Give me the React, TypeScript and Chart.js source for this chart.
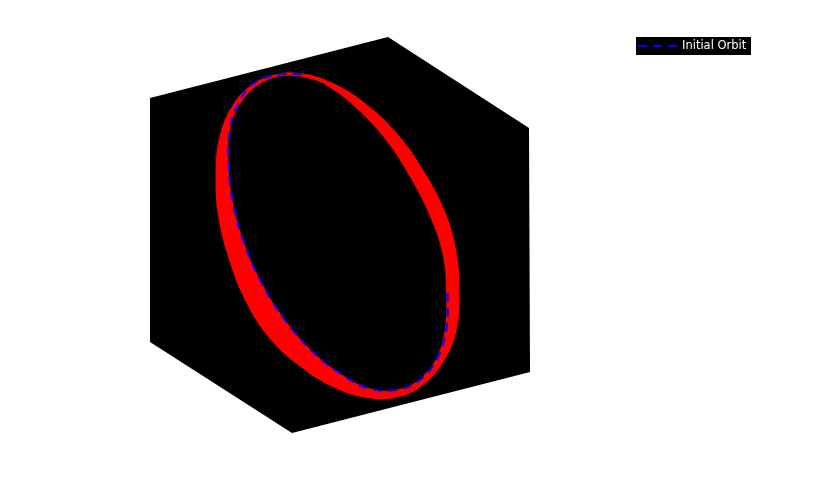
import React, { useEffect, useRef } from 'react';
import { Chart, registerables } from 'chart.js';

Chart.register(...registerables);

// Figure extents (figure units, y grows downward)
const viewX = [0, 816];
const viewY = [0, 489];

// Axes box (3-D cube silhouette, black axes background)
const cubeX = [150, 388, 529, 530, 292, 150, 150];
const cubeY = [98, 37, 128, 372, 433, 342, 98];

// Outer envelope of the perturbed (red) orbits, projected
const outerX = [459.5, 456.5, 443, 422, 396.5, 367.3, 335, 302, 270, 246, 229.5, 218.5, 215.5, 219, 231, 250, 275, 304.5, 336, 367.5, 398, 423.5, 445, 456.5];
const outerY = [293, 331, 362.5, 386, 397.5, 398, 388, 368, 339, 302, 261, 218, 176, 139, 108, 86, 74.5, 74, 84.5, 105, 134.5, 170.5, 211.5, 252];

// Inner envelope of the red orbit band
const innerX = [446, 445, 436.2, 417.8, 394.8, 368.8, 339.5, 311, 284, 261, 243.5, 232.5, 228.5, 230.5, 242, 261, 284, 311, 333.4, 361.2, 388.1, 410.7, 430, 442.7];
const innerY = [292, 328, 358.2, 380.4, 389.7, 388.1, 373, 350, 318.5, 281.5, 241, 200, 161, 128, 101.5, 83.5, 76, 79, 89.9, 112.8, 143, 178.3, 216.5, 254.5];

// Initial orbit (blue dashed)
const initialX = [447.5, 446.5, 437, 418.5, 395, 368, 339.5, 311, 284, 261, 243.5, 232.5, 228.5, 230, 237.5, 253, 277, 307, 338, 368, 392, 413, 432, 445];
const initialY = [293, 329, 359, 381, 390, 388, 373, 350, 318.5, 281.5, 241, 200, 161, 128, 105, 84, 75, 76, 90, 116, 148, 186, 226, 266];
// index range (in the wrapped series) of the part of the initial orbit seen in front of the red band
const initialVisible = [1, 17];

const seriesLabels = ['Initial Orbit', 'Inner envelope', 'Perturbed orbits', 'Axes box'];

const LEGEND = { left: 636, top: 37, right: 751, bottom: 55, lineStart: 638, lineEnd: 678, textX: 682 };
const DASH = [9, 6];

function toPoints(xs: number[], ys: number[]) {
  return xs.map((x, i) => ({ x, y: ys[i] }));
}

// wrap the closed orbit so the spline has neighbours at the seam
function closedLoop(xs: number[], ys: number[]) {
  const pts = toPoints(xs, ys);
  const n = pts.length;
  return [pts[n - 1], ...pts, pts[0], pts[1]];
}

const legendPlugin = {
  id: 'orbitLegend',
  afterDraw(chart: any) {
    const ds = chart.data.datasets[0];
    const { ctx } = chart;
    const sx = chart.scales.x;
    const sy = chart.scales.y;
    const l = sx.getPixelForValue(LEGEND.left);
    const r = sx.getPixelForValue(LEGEND.right);
    const t = sy.getPixelForValue(LEGEND.top);
    const b = sy.getPixelForValue(LEGEND.bottom);
    const mid = (t + b) / 2;
    ctx.save();
    ctx.fillStyle = '#000000';
    ctx.fillRect(l, t, r - l, b - t);
    ctx.strokeStyle = ds.borderColor;
    ctx.lineWidth = 2;
    ctx.setLineDash(DASH);
    ctx.beginPath();
    ctx.moveTo(sx.getPixelForValue(LEGEND.lineStart), mid);
    ctx.lineTo(sx.getPixelForValue(LEGEND.lineEnd), mid);
    ctx.stroke();
    ctx.setLineDash([]);
    ctx.fillStyle = '#ffffff';
    ctx.font = "11.5px 'DejaVu Sans', sans-serif";
    ctx.textBaseline = 'middle';
    ctx.textAlign = 'left';
    ctx.fillText(ds.label, sx.getPixelForValue(LEGEND.textX), mid + 0.5);
    ctx.restore();
  },
};

export default function App() {
  const ref = useRef<HTMLCanvasElement>(null);
  useEffect(() => {
    if (!ref.current) return;
    const initialPts = closedLoop(initialX, initialY);
    const chart = new Chart(ref.current, {
      type: 'scatter',
      data: {
        datasets: [
          {
            label: seriesLabels[0],
            data: initialPts,
            showLine: true,
            borderColor: '#0000ff',
            borderWidth: 2,
            borderDash: DASH,
            pointRadius: 0,
            tension: 0.4,
            fill: false,
            segment: {
              borderColor: (c: any) =>
                c.p0DataIndex < initialVisible[0] || c.p0DataIndex > initialVisible[1]
                  ? 'rgba(0,0,0,0)'
                  : undefined,
            },
          },
          {
            label: seriesLabels[1],
            data: closedLoop(innerX, innerY),
            showLine: true,
            borderWidth: 0,
            borderColor: 'rgba(0,0,0,0)',
            backgroundColor: '#000000',
            fill: 'shape',
            pointRadius: 0,
            tension: 0.4,
          },
          {
            label: seriesLabels[2],
            data: closedLoop(outerX, outerY),
            showLine: true,
            borderWidth: 0,
            borderColor: 'rgba(0,0,0,0)',
            backgroundColor: '#ff0000',
            fill: 'shape',
            pointRadius: 0,
            tension: 0.4,
          },
          {
            label: seriesLabels[3],
            data: toPoints(cubeX, cubeY),
            showLine: true,
            borderWidth: 0,
            borderColor: 'rgba(0,0,0,0)',
            backgroundColor: '#000000',
            fill: 'shape',
            pointRadius: 0,
            tension: 0,
          },
        ],
      },
      options: {
        animation: false,
        responsive: true,
        maintainAspectRatio: false,
        events: [],
        layout: { padding: 0 },
        scales: {
          x: { type: 'linear', min: viewX[0], max: viewX[1], display: false },
          y: { type: 'linear', min: viewY[0], max: viewY[1], reverse: true, display: false },
        },
        plugins: {
          legend: { display: false },
          tooltip: { enabled: false },
        },
      },
      plugins: [legendPlugin],
    } as any);
    return () => chart.destroy();
  }, []);
  return (
    <div style={{ position: 'fixed', left: 0, top: 0, width: 816, height: 489, background: '#ffffff' }}>
      <canvas ref={ref} />
    </div>
  );
}
